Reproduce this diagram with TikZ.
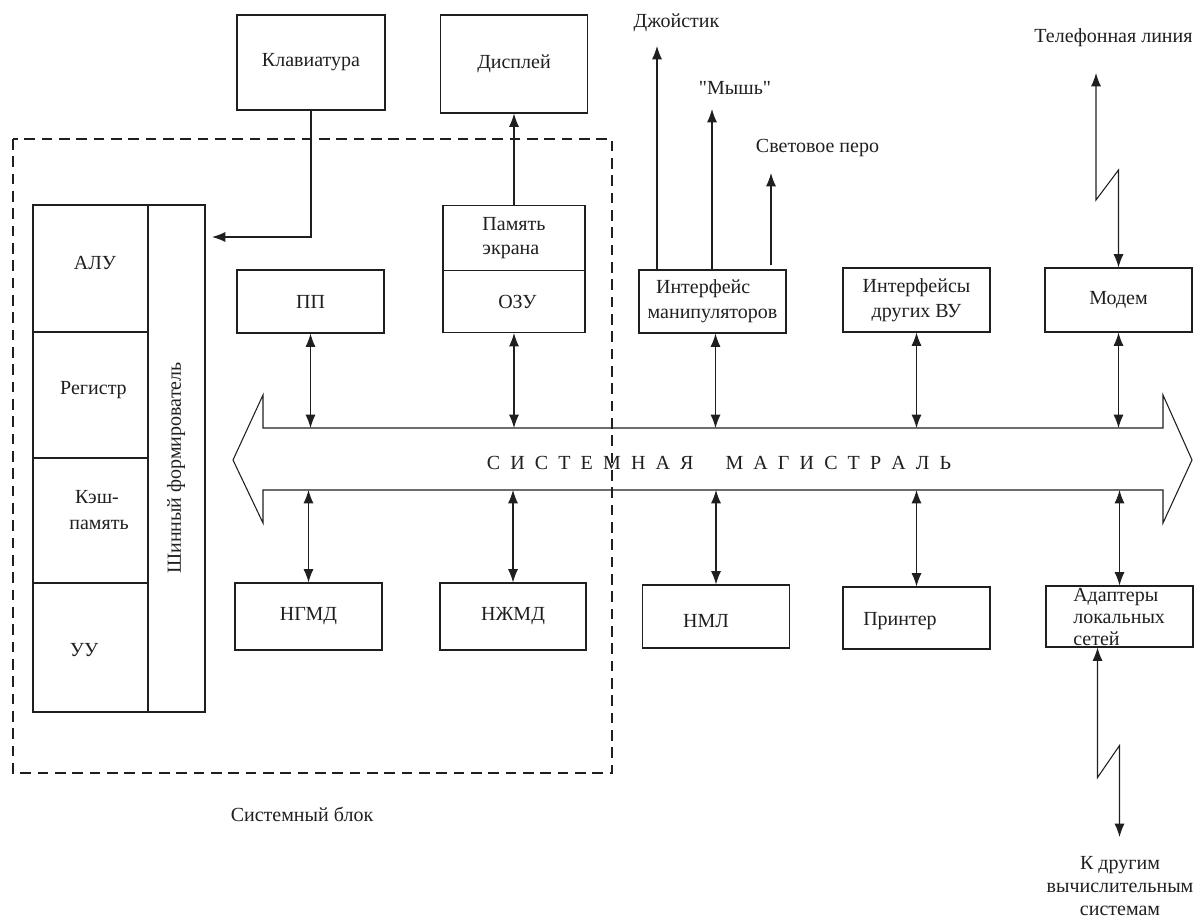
\documentclass[tikz,border=0pt]{standalone}
\usepackage{fontspec}
\setmainfont{Liberation Serif}
\newfontfamily\plainq{Liberation Serif}[Ligatures=TeXOff]
\usetikzlibrary{arrows.meta,calc}
\newcommand\lsp{\hspace{7.6pt}}
\definecolor{ink}{gray}{0.12}
\tikzset{
  bx/.style 2 args={draw=ink, line width=0.8pt, minimum width=#1*0.75pt, minimum height=#2*0.75pt},
  ln/.style={draw=ink, line width=0.8pt},
  tip/.style={ln, -{Latex[length=10pt,width=7.5pt]}},
  dbl/.style={ln, {Latex[length=10pt,width=7.5pt]}-{Latex[length=10pt,width=7.5pt]}},
  frame/.style={draw=ink, line width=1.5pt, dash pattern=on 8pt off 5pt},
}
\begin{document}
\begin{tikzpicture}[x=0.75pt,y=-0.75pt,
  every node/.style={font=\fontsize{15}{18.5}\selectfont, inner sep=0pt, text=ink}]
\useasboundingbox (0,0) rectangle (1199,920);

% system block frame
\draw[frame] (13,139) rectangle (612,773);
\node (sysblk) at (302,814) {Системный блок};

% top boxes
\node[bx={148}{95}] (kbd) at (311,62.5) {Клавиатура};
\node[bx={147}{98}] (disp) at (514,64) {Дисплей};

% CPU
\node[bx={115}{127}] (alu) at (90.5,268.5) {};
\node[bx={115}{126}] (reg) at (90.5,395) {};
\node[bx={115}{125}] (cache) at (90.5,520.5) {};
\node[bx={115}{129}] (uu) at (90.5,647.5) {};
\node (alutxt) at (95,263) {АЛУ};
\node (regtxt) at (93.5,390) {Регистр};
\node[align=center, font=\fontsize{15}{19}\selectfont] (cachetxt) at (97,510) {Кэш-\\\hspace*{3pt}память};
\node (uutxt) at (84,650) {УУ};
\node[bx={57}{507}] (bf) at (176.5,458.5) {};
\node[rotate=90] (bftxt) at (176,468) {Шинный формирователь};

% memory etc.
\node[bx={147}{63}] (pp) at (310.5,301.5) {ПП};
\node[bx={142}{65}, align=left] (mem) at (514,238) {Память\\экрана};
\node[bx={142}{62}] (ozu) at (514,301.5) {\hspace*{5pt}ОЗУ};
\node[bx={147}{63}, align=center] (intm) at (712.5,301.5) {\hspace*{-14pt}Интерфейс\\манипуляторов};
\node[bx={147}{64}, align=center] (intv) at (916.5,300) {Интерфейсы\\других ВУ};
\node[bx={147}{64}] (modem) at (1118.5,300) {Модем};

\node[bx={147}{67}] (ngmd) at (308.5,616.5) {НГМД};
\node[bx={146}{67}] (nzhmd) at (513,616.5) {НЖМД};
\node[bx={147}{63}] (nml) at (716,616.5) {};
\node (nmltxt) at (706,621) {НМЛ};
\node[bx={147}{62}] (prn) at (916.5,618) {};
\node (prntxt) at (900,621) {Принтер};
\node[bx={147}{61}] (adapt) at (1119.5,616.5) {};
\node[align=left, anchor=north west, font=\fontsize{15}{16.5}\selectfont] (adtxt) at (1073,588) {Адаптеры\\локальных\\сетей};

% system bus
\draw[ln] (263,428) -- (263,395) -- (233,460) -- (263,523) -- (263,490) -- (1163,490)
  -- (1163,523) -- (1192,460) -- (1163,395) -- (1163,428) -- cycle;
\coordinate (bt) at (0,428);
\coordinate (bb) at (0,490);
\node (buslbl) at (719,463) {С\lsp И\lsp С\lsp Т\lsp Е\lsp М\lsp Н\lsp А\lsp Я\hspace{24pt}М\lsp А\lsp Г\lsp И\lsp С\lsp Т\lsp Р\lsp А\lsp Л\lsp Ь};

% bus connections
\draw[dbl] (pp.south) -- (pp.south |- bt);
\draw[dbl] (ozu.south) -- (ozu.south |- bt);
\draw[dbl] ($(intm.south)+(3,0)$) -- ($(intm.south |- bt)+(3,0)$);
\draw[dbl] (intv.south) -- (intv.south |- bt);
\draw[dbl] (modem.south) -- (modem.south |- bt);
\draw[dbl] (ngmd.north) -- (ngmd.north |- bb);
\draw[dbl] (nzhmd.north) -- (nzhmd.north |- bb);
\draw[dbl] (nml.north) -- (nml.north |- bb);
\draw[dbl] (prn.north) -- (prn.north |- bb);
\draw[dbl] (adapt.north) -- (adapt.north |- bb);

% keyboard and display
\coordinate (kin) at (212,237);
\draw[tip] (kbd.south) -- (kbd.south |- kin) -- (kin);
\draw[tip] (mem.north) -- (disp.south);

% manipulators
\node (joytxt) at (676.5,23) {Джойстик};
\node (mousetxt) at (735,88) {{\plainq"}Мышь{\plainq"}};
\node (pentxt) at (817.5,148) {Световое перо};
\coordinate (joy) at (657,46);
\coordinate (mouse) at (712,109);
\coordinate (pen) at (771,173);
\draw[tip] (intm.north -| joy) -- (joy);
\draw[tip] (intm.north -| mouse) -- (mouse);
\draw[tip] ($(intm.north -| pen)+(0,-4)$) -- (pen);

% telephone line
\node (teltxt) at (1113.5,38) {Телефонная линия};
\coordinate (tel) at (1096,73);
\draw[dbl] (tel) -- ++(0,127) -- ++(22.5,-30) -- (modem.north);

% networks
\node[align=center, font=\fontsize{15}{17}\selectfont] (nettxt) at (1120,886) {К другим\\вычислительным\\системам};
\coordinate (net) at (1119.5,837);
\draw[dbl] ($(adapt.south)+(-22,0)$) -- ++(0,130) -- ++(22,-32) -- (net);
\end{tikzpicture}
\end{document}
